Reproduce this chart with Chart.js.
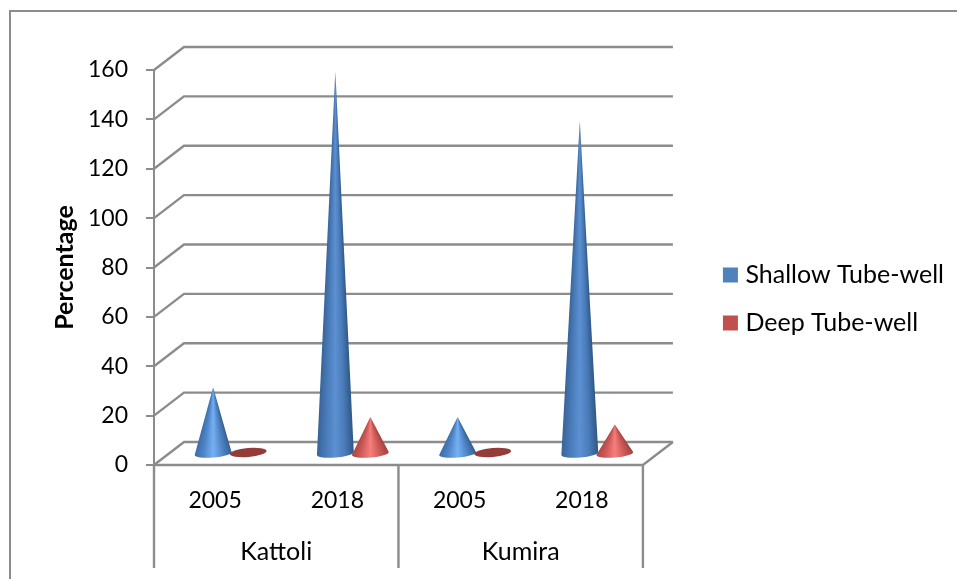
<!DOCTYPE html>
<html><head><meta charset="utf-8">
<style>html,body{margin:0;padding:0;background:#fff}canvas{display:block}</style>
<script src="https://cdn.jsdelivr.net/npm/chart.js@4"></script>
</head><body>
<canvas id="c" width="957" height="579"></canvas>
<script>
const years = ['2005','2018','2005','2018'];
const sites = ['Kattoli','Kumira'];
const shallow = [27,155,15,135];
const deep = [1,15,1,12];
const yTicksMax = 160, yStep = 20;

const FONT = 'Lato';
const GRID = '#8c8c8c';
const DX = 30, DY = -23;

const palettes = [
  {legend:'#4f81bd', flat:'#3a6596', short:['#3a6aa6','#4f86c8','#76b0f4','#4f86c8','#35608f'], tall:['#386296','#4a7cba','#5c90d2','#4a7cba','#2f5684']},
  {legend:'#c0504d', flat:'#943c3a', short:['#a84542','#cf5a57','#f57f7c','#cf5a57','#a34240'], tall:['#a84542','#cf5a57','#f57f7c','#cf5a57','#a34240']}
];

const plugin = {
  id:'cones3d',
  beforeDatasetsDraw(chart){
    const ctx = chart.ctx, y = chart.scales.y, a = chart.chartArea;
    ctx.save();
    ctx.strokeStyle = GRID; ctx.lineWidth = 2.4; ctx.lineJoin='miter';
    y.ticks.forEach(t=>{
      const p = y.getPixelForValue(t.value);
      ctx.beginPath(); ctx.moveTo(a.left,p); ctx.lineTo(a.left+DX,p+DY); ctx.lineTo(a.right+DX,p+DY); ctx.stroke();
    });
    const p0 = y.getPixelForValue(0);
    ctx.beginPath(); ctx.moveTo(a.left,p0); ctx.lineTo(a.right,p0); ctx.lineTo(a.right+DX,p0+DY); ctx.stroke();
    const g = chart.scales.group;
    const mid = (g.getPixelForTick(0)+g.getPixelForTick(1))/2;
    [a.left,mid,a.right].forEach(x=>{ctx.beginPath();ctx.moveTo(x,p0);ctx.lineTo(x,568);ctx.stroke();});
    ctx.lineWidth = 2;
    ctx.strokeRect(10,11,980,600);
    ctx.restore();
  },
  beforeDatasetDraw(chart,args){
    const ctx = chart.ctx, pal = palettes[args.index];
    args.meta.data.forEach(el=>{
      const cx = el.x+DX/2+0.5, by = el.base+DY/2+1, ty = el.y+DY/2+0.5, r = el.width/2+1;
      const tilt = -5*Math.PI/180, ry = 4, c=Math.cos(tilt), s=Math.sin(tilt);
      ctx.save();
      if(by-ty<6){
        ctx.fillStyle = pal.flat;
        ctx.beginPath();ctx.ellipse(cx,by-1,r,ry+0.5,tilt,0,Math.PI*2);ctx.fill();
      } else {
        const stops = by-ty>200?pal.tall:pal.short;
        ctx.beginPath();
        ctx.moveTo(cx,ty);
        ctx.lineTo(cx+r*c,by+r*s);
        ctx.ellipse(cx,by,r,ry,tilt,0,Math.PI);
        ctx.closePath();
        ctx.clip();
        for(let py=Math.floor(ty);py<by+r*0.2+ry;py++){
          const w=Math.max(0.5,r*Math.min(1,(py+0.5-ty)/(by-ty)))+0.3;
          const g=ctx.createLinearGradient(cx-w,0,cx+w,0);
          stops.forEach((col,i)=>g.addColorStop(i/(stops.length-1),col));
          ctx.fillStyle=g;
          ctx.fillRect(cx-w-1,py,2*w+2,1);
        }
      }
      ctx.restore();
    });
    return false;
  }
};

new Chart(document.getElementById('c'),{
  type:'bar',
  data:{labels:years,datasets:[
    {label:'Shallow Tube-well',data:shallow,backgroundColor:palettes[0].legend,xAxisID:'x',yAxisID:'y'},
    {label:'Deep Tube-well',data:deep,backgroundColor:palettes[1].legend,xAxisID:'x',yAxisID:'y'}
  ]},
  plugins:[plugin],
  options:{
    responsive:false,animation:false,events:[],
    categoryPercentage:0.5727,barPercentage:1,
    layout:{padding:{top:19,left:0,right:3,bottom:0}},
    plugins:{
      tooltip:{enabled:false},
      legend:{position:'right',maxWidth:320,labels:{color:'#000',font:{family:FONT,size:25},usePointStyle:true,pointStyle:'rect',boxHeight:15,boxWidth:5,padding:23}}
    },
    scales:{
      x:{type:'category',position:'bottom',weight:0,offset:true,grid:{display:false},border:{display:false},
        ticks:{color:'#000',font:{family:FONT,size:23},padding:14,maxRotation:0,autoSkip:false},
        afterFit(s){s.height=64;}},
      group:{type:'category',labels:sites,position:'bottom',weight:1,offset:true,grid:{display:false},border:{display:false},
        ticks:{color:'#000',font:{family:FONT,size:25},padding:0,maxRotation:0},
        afterFit(s){s.height=50;}},
      pad:{type:'linear',position:'top',display:true,grid:{display:false},border:{display:false},ticks:{display:false},afterFit(s){s.height=51;}},
      spacer:{type:'linear',position:'right',display:true,grid:{display:false},border:{display:false},ticks:{display:false},afterFit(s){s.width=62;}},
      y:{type:'linear',position:'left',min:0,max:yTicksMax,
        ticks:{stepSize:yStep,color:'#000',font:{family:FONT,size:23},padding:18},
        grid:{drawOnChartArea:false,tickLength:8,color:GRID,lineWidth:2},
        border:{color:GRID,width:2},
        title:{display:true,text:'Percentage',color:'#000',font:{family:FONT,size:25,weight:'bold'},padding:{top:50,bottom:0}},
        afterFit(s){s.width=154;}}
    }
  }
});
</script>
</body></html>
